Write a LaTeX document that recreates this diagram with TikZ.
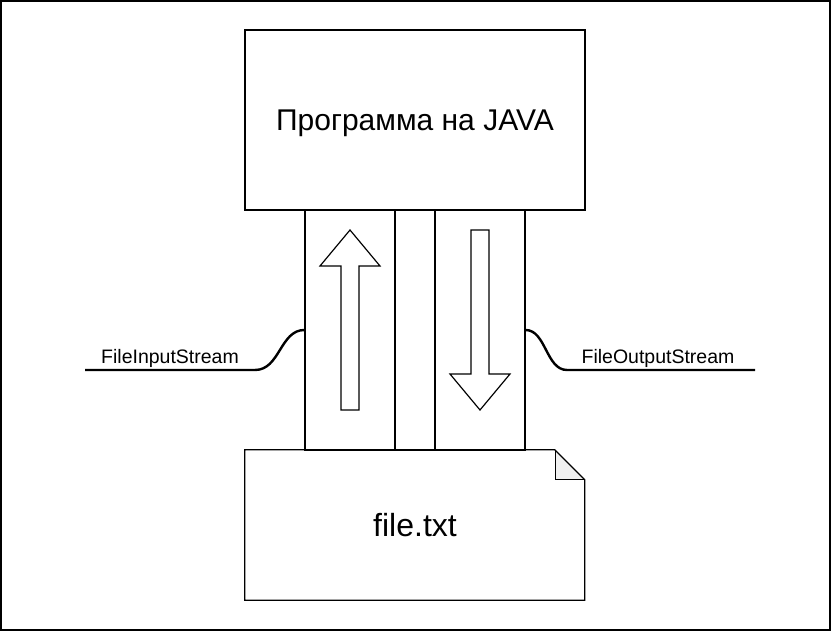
\documentclass[tikz,border=0pt]{standalone}
\usepackage{fontspec}
\setmainfont{Liberation Sans}
\usepackage{tikz}
\usetikzlibrary{positioning}

\begin{document}
\begin{tikzpicture}[
x=1pt, y=-1pt,
box/.style={
rectangle,
draw=black,
line width=1.2pt,
inner sep=0pt,
align=center
},
pipe/.style={
rectangle,
draw=black,
line width=1.2pt,
inner sep=0pt,
minimum height=240pt
},
hollowarrow/.style={
draw=black,
fill=white,
line width=1.2pt,
line join=miter
},
stream/.style={
line width=2.4pt,
line cap=butt
},
label/.style={
font=\fontsize{19.5}{23}\selectfont,
anchor=base
}
]

\useasboundingbox (0,0) rectangle (831,631);
\draw[line width=2pt] (1,1) rectangle (830,630);

\node[box, minimum width=340pt, minimum height=180pt,
text height=21.4pt, text depth=0pt,
font=\fontsize{30}{36}\selectfont] (program) at (415,120)
{Программа на JAVA};

% three channels between the program and the file
\node[pipe, minimum width=90pt] (inpipe) at (350,330) {};
\node[pipe, minimum width=40pt] (gap) at (415,330) {};
\node[pipe, minimum width=90pt] (outpipe) at (480,330) {};

% note shape with folded corner
\node[inner sep=0pt, minimum width=340pt, minimum height=150pt,
text height=23.4pt, text depth=0pt,
font=\fontsize{32}{38}\selectfont] (file) at (415,525) {file.txt};
\fill[black!6] (file.north east) ++(-30,0) -- ++(30,30) -- ++(-30,0) -- cycle;
\draw[line width=1.2pt, line join=miter] (file.north west) -- ++(310,0) -- ++(30,30)
|- (file.south west) -- cycle;
\draw[line width=1.2pt] (file.north east) ++(-30,0) -- ++(0,30) -- ++(30,0);

% block arrows
\draw[hollowarrow] (350,230) -- (380,266) -- (359,266) -- (359,410)
-- (341,410) -- (341,266) -- (320,266) -- cycle;
\draw[hollowarrow] (471,230) -- (489,230) -- (489,374) -- (510,374)
-- (480,410) -- (450,374) -- (471,374) -- cycle;

% stream lines
\coordinate (inend) at (85,370);
\coordinate (outend) at (755,370);
\draw[stream] (inend) -- (255,370) .. controls (280,370) and (280,330) .. (inpipe.west);
\draw[stream] (outpipe.east) .. controls (546,330) and (546,370) .. (567,370) -- (outend);

\node[label] (inlabel) at (170,363.5) {FileInputStream};
\node[label] (outlabel) at (658,363.5) {FileOutputStream};

\end{tikzpicture}
\end{document}
